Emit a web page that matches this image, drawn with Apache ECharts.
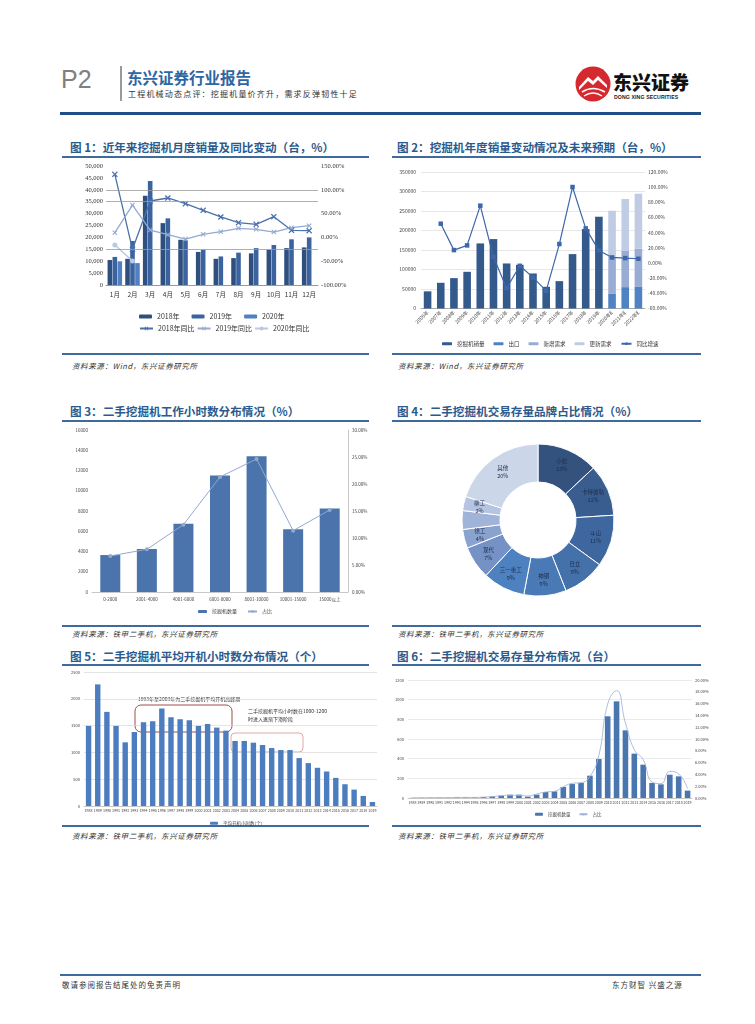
<!DOCTYPE html>
<html><head><meta charset="utf-8">
<script src="https://cdn.jsdelivr.net/npm/echarts@6/dist/echarts.min.js"></script>
<style>
body{margin:0;background:#fff;}
#page{position:relative;width:755px;height:1024px;overflow:hidden;font-family:"Noto Sans CJK SC",sans-serif;background:#fff;}
.ch{position:absolute;left:0;top:0;width:755px;height:1024px;pointer-events:none;}
.t{position:absolute;white-space:nowrap;line-height:1;}
.title{font-size:11.6px;font-weight:bold;color:#2b5a8d;}
.hl{position:absolute;height:1.5px;background:#3f6b9c;}
.src{font-size:7.5px;font-style:italic;color:#333;letter-spacing:0.6px;}
</style></head>
<body>
<div id="page">
  <div class="t" style="left:61px;top:67px;font-size:25px;color:#808080;font-family:'Liberation Sans',sans-serif;">P2</div>
  <div style="position:absolute;left:120px;top:66px;width:1.5px;height:35px;background:#9a9a9a;"></div>
  <div class="t" style="left:127px;top:70px;font-size:15.5px;font-weight:bold;color:#2e66a3;">东兴证券行业报告</div>
  <div class="t" style="left:128px;top:90px;font-size:8px;color:#333;letter-spacing:1.2px;font-family:'Noto Sans CJK SC';">工程机械动态点评：挖掘机量价齐升，需求反弹韧性十足</div>
  <svg style="position:absolute;left:574px;top:65px" width="38" height="38" viewBox="0 0 38 38">
    <circle cx="19" cy="19" r="17.5" fill="#d42a2f"/>
    <path d="M5,22 L14,12 L19,16 L24,11 L33,20 L33,23 L24,15 L19,20 L14,16 L5,25Z" fill="#fff"/>
    <path d="M8,27 Q19,20 31,27" stroke="#fff" stroke-width="1.6" fill="none"/>
    <path d="M10,31 Q19,25 28,31" stroke="#fff" stroke-width="1.4" fill="none"/>
  </svg>
  <div class="t" style="left:613px;top:72px;font-size:19px;font-weight:900;color:#111;letter-spacing:0px;">东兴证券</div>
  <div class="t" style="left:614px;top:95px;font-size:5.2px;font-weight:bold;color:#222;font-family:'Liberation Sans';letter-spacing:0.1px;">DONG XING SECURITIES</div>
  <div style="position:absolute;left:60px;top:112px;width:641px;height:3px;background:#1d4f86;"></div>

  <div class="t title" style="left:70px;top:142px;">图 1：近年来挖掘机月度销量及同比变动（台，%）</div>
  <div class="t title" style="left:397px;top:142px;">图 2：挖掘机年度销量变动情况及未来预期（台，%）</div>
  <div class="hl" style="left:62px;top:156px;width:307px;"></div>
  <div class="hl" style="left:392px;top:156px;width:309px;"></div>
  <div class="hl" style="left:62px;top:353px;width:307px;"></div>
  <div class="hl" style="left:392px;top:353px;width:309px;"></div>
  <div class="t src" style="left:72px;top:362px;">资料来源：Wind，东兴证券研究所</div>
  <div class="t src" style="left:398px;top:362px;">资料来源：Wind，东兴证券研究所</div>

  <div class="t title" style="left:70px;top:406px;">图 3：二手挖掘机工作小时数分布情况（%）</div>
  <div class="t title" style="left:397px;top:406px;">图 4：二手挖掘机交易存量品牌占比情况（%）</div>
  <div class="hl" style="left:62px;top:420px;width:307px;"></div>
  <div class="hl" style="left:392px;top:420px;width:309px;"></div>
  <div class="hl" style="left:62px;top:625px;width:307px;"></div>
  <div class="hl" style="left:392px;top:625px;width:309px;"></div>
  <div class="t src" style="left:72px;top:630px;">资料来源：铁甲二手机，东兴证券研究所</div>
  <div class="t src" style="left:398px;top:630px;">资料来源：铁甲二手机，东兴证券研究所</div>

  <div class="t title" style="left:70px;top:651px;">图 5：二手挖掘机平均开机小时数分布情况（个）</div>
  <div class="t title" style="left:397px;top:651px;">图 6：二手挖掘机交易存量分布情况（台）</div>
  <div class="hl" style="left:62px;top:664px;width:307px;"></div>
  <div class="hl" style="left:392px;top:664px;width:309px;"></div>
  <div class="hl" style="left:62px;top:825px;width:307px;"></div>
  <div class="hl" style="left:392px;top:825px;width:309px;"></div>
  <div class="t src" style="left:72px;top:832px;">资料来源：铁甲二手机，东兴证券研究所</div>
  <div class="t src" style="left:398px;top:832px;">资料来源：铁甲二手机，东兴证券研究所</div>

  <div style="position:absolute;left:60px;top:974px;width:641px;height:1.5px;background:#3f6b9c;"></div>
  <div class="t" style="left:62px;top:981px;font-size:7.5px;color:#333;letter-spacing:1px;">敬请参阅报告结尾处的免责声明</div>
  <div class="t" style="left:612px;top:981px;font-size:7.5px;color:#333;letter-spacing:1px;">东方财智 兴盛之源</div>

  <div id="c1" class="ch"></div>
  <div id="c2" class="ch"></div>
  <div id="c3" class="ch"></div>
  <div id="c4" class="ch"></div>
  <div id="c5" class="ch"></div>
  <div id="c6" class="ch"></div>
</div>
<script>
// ---------- data ----------
const months = ['1月','2月','3月','4月','5月','6月','7月','8月','9月','10月','11月','12月'];
const sales2018 = [10500, 11000, 37500, 26000, 19000, 13900, 11000, 11300, 13300, 14800, 15500, 15800];
const sales2019 = [11800, 18500, 43700, 28000, 18800, 14800, 12000, 13600, 15500, 16800, 19200, 20000];
const sales2020 = [9950, 9200, null, null, null, null, null, null, null, null, null, null];
const yoy2018 = [132.5, -25, 76.5, 82.8, 70.9, 56.9, 42.9, 31, 27.5, 43.6, 14.8, 14.2];
const yoy2019 = [9.9, 68, 15.5, 5.7, -3.4, 6.4, 12, 19, 17, 11.3, 20.4, 24.6];
const yoy2020 = [-16, -49.6, null, null, null, null, null, null, null, null, null, null];

const years2 = ['2006年','2007年','2008年','2009年','2010年','2011年','2012年','2013年','2014年','2015年','2016年','2017年','2018年','2019年','2020年E','2021年E','2022年E'];
const annualSales = [44000, 65900, 77900, 94100, 166900, 178000, 115500, 112100, 89800, 55600, 70200, 139500, 203700, 235300, null, null, null];
const exportDemand = [null,null,null,null,null,null,null,null,null,null,null,null,null,null, 38500, 54800, 56500];
const newDemand = [null,null,null,null,null,null,null,null,null,null,null,null,null,null, 95000, 93200, 96700];
const replaceDemand = [null,null,null,null,null,null,null,null,null,null,null,null,null,null, 117200, 132700, 141200];
const annualGrowth = [null, 51.8, 17, 23.2, 75.6, 7.8, -33.2, -3.7, -19, -36.7, 25, 100.2, 45.6, 16.6, 7.3, 6.5, 5.6];

const hourBins = ['0-2000','2001-4000','4001-6000','6001-8000','8001-10000','10001-15000','15000以上'];
const hourCount = [3650, 4250, 6750, 11500, 13400, 6200, 8250];
const hourShare = [6.67, 7.90, 12.47, 21.30, 24.63, 11.36, 15.19];

const brands = ['小松','卡特彼勒','斗山','日立','神钢','三一重工','现代','徐工','沃尔沃','柳工','其他'];
const brandShare = [13, 11, 11, 9, 9, 9, 7, 4, 4, 3, 20];

const makeYears = ['1988','1989','1990','1991','1992','1993','1994','1995','1996','1997','1998','1999','2000','2001','2002','2003','2004','2005','2006','2007','2008','2009','2010','2011','2012','2013','2014','2015','2016','2017','2018','2019'];
const avgHours = [1494, 2269, 1756, 1494, 1188, 1381, 1563, 1581, 1819, 1656, 1619, 1600, 1494, 1531, 1463, 1406, 1213, 1213, 1181, 1138, 1081, 1044, 1044, 894, 800, 713, 644, 525, 406, 306, 188, 75];

const stockCount = [2, 2, 3, 3, 3, 7, 7, 7, 10, 17, 24, 34, 34, 14, 34, 61, 68, 112, 142, 153, 227, 397, 831, 983, 688, 451, 339, 153, 139, 237, 220, 75];
const stockShare = [0.03, 0.03, 0.06, 0.06, 0.06, 0.1, 0.1, 0.1, 0.15, 0.23, 0.4, 0.45, 0.45, 0.34, 0.68, 1.02, 1.13, 1.92, 2.49, 2.6, 3.67, 7.23, 15.93, 18.19, 12.71, 8.19, 6.5, 2.71, 2.43, 4.52, 4.07, 1.58];

// ---------- helpers ----------
const CJK = 'Noto Sans CJK SC';
function mk(id){ return echarts.init(document.getElementById(id), null, {renderer:'canvas'}); }
const pct2 = v => v.toFixed(2) + '%';
const plain = v => String(v);
const xMark = 'path://M0,1.5L1.5,0L5,3.5L8.5,0L10,1.5L6.5,5L10,8.5L8.5,10L5,6.5L1.5,10L0,8.5L3.5,5Z';

// ---------- chart 1 ----------
const c1 = mk('c1');
c1.setOption({
  animation:false,
  textStyle:{fontFamily:'Liberation Serif'},
  grid:{left:106, top:166, width:212, height:119},
  legend:[
    {data:['2018年','2019年','2020年'], left:134, top:308, itemWidth:13, itemHeight:4, itemGap:12,
     textStyle:{fontSize:7, color:'#333', fontFamily:CJK}},
    {data:['2018年同比','2019年同比','2020年同比'], left:134, top:320, itemWidth:13, itemHeight:5, itemGap:2,
     textStyle:{fontSize:7, color:'#333', fontFamily:CJK}}
  ],
  xAxis:{type:'category', data:months, axisTick:{show:false},
    axisLine:{lineStyle:{color:'#999'}},
    axisLabel:{fontSize:6.5, color:'#333', margin:6, interval:0, fontFamily:CJK}},
  yAxis:[
    {type:'value', min:0, max:50000, interval:5000, axisLine:{show:false}, axisTick:{show:false},
     splitLine:{show:false},
     axisLabel:{fontSize:6.5, color:'#333', margin:3, formatter:v=>v.toLocaleString('en-US')}},
    {type:'value', min:-100, max:150, interval:50, axisLine:{show:false}, axisTick:{show:false},
     splitLine:{show:false},
     axisLabel:{fontSize:6.5, color:'#333', margin:3, formatter:pct2}}
  ],
  series:[
    {name:'2018年', type:'bar', data:sales2018, barWidth:4.6, barGap:'8%', itemStyle:{color:'#2f4f7e'},
     markLine:{silent:true, symbol:'none', label:{show:false}, lineStyle:{color:'#9a9a9a', type:'solid', width:0.8},
       data:[{yAxis:15000},{yAxis:35000},{yAxis:40000}]}},
    {name:'2019年', type:'bar', data:sales2019, barWidth:4.6, itemStyle:{color:'#3b63a0'}},
    {name:'2020年', type:'bar', data:sales2020, barWidth:4.6, itemStyle:{color:'#4f80c0'}},
    {name:'2018年同比', type:'line', yAxisIndex:1, data:yoy2018, symbol:xMark, symbolSize:6,
     lineStyle:{color:'#4a70ab', width:1.3}, itemStyle:{color:'#4a70ab'}},
    {name:'2019年同比', type:'line', yAxisIndex:1, data:yoy2019, symbol:xMark, symbolSize:5,
     lineStyle:{color:'#93aad2', width:1.3}, itemStyle:{color:'#93aad2'}},
    {name:'2020年同比', type:'line', yAxisIndex:1, data:yoy2020, symbol:'circle', symbolSize:5,
     lineStyle:{color:'#b9c8e3', width:1.5}, itemStyle:{color:'#b9c8e3'}}
  ]
});

// ---------- chart 2 ----------
const c2 = mk('c2');
c2.setOption({
  animation:false,
  textStyle:{fontFamily:CJK},
  grid:{left:421, top:172, width:224, height:136.5},
  legend:{data:['挖掘机销量','出口','新增需求','更新需求','同比增速'], left:437, top:336,
    itemWidth:10, itemHeight:3, itemGap:9, textStyle:{fontSize:5.5, color:'#333'}},
  xAxis:{type:'category', data:years2, axisTick:{show:false},
    axisLine:{lineStyle:{color:'#aaa'}},
    axisLabel:{fontSize:5, color:'#444', rotate:45, interval:0, margin:3}},
  yAxis:[
    {type:'value', min:0, max:350000, interval:50000, axisLine:{show:false}, axisTick:{show:false},
     splitLine:{lineStyle:{color:'#dcdcdc', width:0.7}},
     axisLabel:{fontSize:5, color:'#444', margin:5, formatter:plain}},
    {type:'value', min:-60, max:120, interval:20, axisLine:{show:false}, axisTick:{show:false},
     splitLine:{show:false},
     axisLabel:{fontSize:5, color:'#444', margin:3, formatter:pct2}}
  ],
  series:[
    {name:'挖掘机销量', type:'bar', stack:'s', data:annualSales, barWidth:7.6, itemStyle:{color:'#345a8c'}},
    {name:'出口', type:'bar', stack:'s', data:exportDemand, barWidth:7.6, itemStyle:{color:'#4f82c2'}},
    {name:'新增需求', type:'bar', stack:'s', data:newDemand, barWidth:7.6, itemStyle:{color:'#98acd4'}},
    {name:'更新需求', type:'bar', stack:'s', data:replaceDemand, barWidth:7.6, itemStyle:{color:'#c0cce4'}},
    {name:'同比增速', type:'line', yAxisIndex:1, data:annualGrowth, symbol:'rect', symbolSize:4.5,
     lineStyle:{color:'#3c67a9', width:1.2}, itemStyle:{color:'#3c67a9'}}
  ]
});

// ---------- chart 3 ----------
const c3 = mk('c3');
c3.setOption({
  animation:false,
  textStyle:{fontFamily:CJK},
  grid:{left:92, top:430, width:256, height:162},
  legend:{data:['挖掘机数量','占比'], left:193, top:604, itemWidth:9, itemHeight:3, itemGap:10,
    textStyle:{fontSize:5, color:'#444'}},
  xAxis:{type:'category', data:hourBins, axisTick:{show:false},
    axisLine:{lineStyle:{color:'#c8c8c8'}},
    axisLabel:{fontSize:4.5, color:'#444', interval:0, margin:5}},
  yAxis:[
    {type:'value', min:0, max:16000, interval:2000, axisLine:{show:false}, axisTick:{show:false},
     splitLine:{show:false}, axisLabel:{fontSize:4.5, color:'#444', margin:4, formatter:plain}},
    {type:'value', min:0, max:30, interval:5, axisLine:{show:true, lineStyle:{color:'#c8c8c8'}}, axisTick:{show:false},
     splitLine:{show:false}, axisLabel:{fontSize:4.5, color:'#444', margin:4, formatter:pct2}}
  ],
  series:[
    {name:'挖掘机数量', type:'bar', data:hourCount, barWidth:20, itemStyle:{color:'#4a74ab'}},
    {name:'占比', type:'line', yAxisIndex:1, data:hourShare, symbol:'circle', symbolSize:4,
     lineStyle:{color:'#92a8d1', width:1}, itemStyle:{color:'#92a8d1'}}
  ]
});

// ---------- chart 4 ----------
const c4 = mk('c4');
const pieColors = ['#33527d','#395d8f','#3e67a0','#4471aa','#497ab5','#4e81bf','#7592c6','#8aa2ce','#a0b3d8','#b5c4e0','#ccd6e9'];
c4.setOption({
  animation:false,
  textStyle:{fontFamily:CJK},
  color:pieColors,
  series:[{
    type:'pie', center:[538,520], radius:[38,76], startAngle:90, clockwise:true,
    itemStyle:{borderColor:'#fff', borderWidth:1},
    label:{show:true, position:'inside', formatter:'{b}\n{c}%', fontSize:5.5, lineHeight:8, color:'#1d2d4b'},
    labelLine:{show:false},
    data:brands.map((b,i)=>({name:b, value:brandShare[i]}))
  }]
});

// ---------- chart 5 ----------
const c5 = mk('c5');
c5.setOption({
  animation:false,
  textStyle:{fontFamily:CJK},
  grid:{left:84, top:672, width:293, height:134},
  legend:{data:['平均开机小时数(个)'], left:205, top:816, itemWidth:8, itemHeight:3,
    textStyle:{fontSize:4.5, color:'#444'}},
  xAxis:{type:'category', data:makeYears, axisTick:{show:false},
    axisLine:{lineStyle:{color:'#c8c8c8'}},
    axisLabel:{fontSize:3.6, color:'#444', interval:0, margin:3}},
  yAxis:{type:'value', min:0, max:2500, interval:500, axisLine:{show:false}, axisTick:{show:false},
    splitLine:{lineStyle:{color:'#d9d9d9', width:0.7}},
    axisLabel:{fontSize:4, color:'#444', margin:4, formatter:plain}},
  series:[{name:'平均开机小时数(个)', type:'bar', data:avgHours, barWidth:5.4, itemStyle:{color:'#4c7dbf'}}],
  graphic:[
    {type:'rect', shape:{x:135, y:705, width:97, height:27, r:6}, style:{fill:'none', stroke:'#a44d49', lineWidth:1}},
    {type:'rect', shape:{x:231, y:733, width:72, height:19, r:4}, style:{fill:'none', stroke:'#e3a7a7', lineWidth:1}},
    {type:'text', x:138, y:697, style:{text:'1993年至2003年为二手挖掘机平均开机高峰期', fontSize:5, fill:'#333', fontFamily:CJK}},
    {type:'text', x:248, y:707, style:{text:'二手挖掘机平均小时数在1000-1200\n时进入逐渐下滑阶段', fontSize:5, lineHeight:8, fill:'#333', fontFamily:CJK}}
  ]
});

// ---------- chart 6 ----------
const c6 = mk('c6');
c6.setOption({
  animation:false,
  textStyle:{fontFamily:CJK},
  grid:{left:408, top:680, width:284, height:118},
  legend:{data:['挖掘机数量','占比'], left:530, top:807, itemWidth:8, itemHeight:3, itemGap:8,
    textStyle:{fontSize:4.5, color:'#444'}},
  xAxis:{type:'category', data:makeYears, axisTick:{show:false},
    axisLine:{lineStyle:{color:'#c8c8c8'}},
    axisLabel:{fontSize:3.6, color:'#444', interval:0, margin:3}},
  yAxis:[
    {type:'value', min:0, max:1200, interval:200, axisLine:{show:false}, axisTick:{show:false},
     splitLine:{lineStyle:{color:'#e3e3e3', width:0.7}}, axisLabel:{fontSize:4, color:'#444', margin:4, formatter:plain}},
    {type:'value', min:0, max:20, interval:2, axisLine:{show:false}, axisTick:{show:false},
     splitLine:{show:false}, axisLabel:{fontSize:4, color:'#444', margin:3, formatter:pct2}}
  ],
  series:[
    {name:'挖掘机数量', type:'bar', data:stockCount, barWidth:5.6, itemStyle:{color:'#4a76b0'}},
    {name:'占比', type:'line', yAxisIndex:1, data:stockShare, smooth:true, symbol:'none',
     lineStyle:{color:'#a4b5d9', width:0.9}, itemStyle:{color:'#a4b5d9'}}
  ]
});
</script>
</body></html>
